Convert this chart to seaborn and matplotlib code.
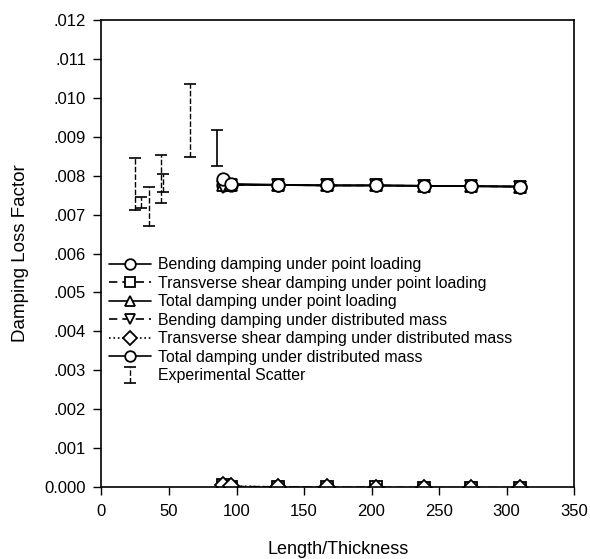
import numpy as np
import pandas as pd
import matplotlib
matplotlib.use("Agg")
import matplotlib.pyplot as plt
import seaborn as sns
from matplotlib.ticker import FuncFormatter, MultipleLocator

# predicted damping curves
lt = [90, 96, 131, 167, 203, 239, 274, 310]
bend_point = [0.00776, 0.00777, 0.00776, 0.00775, 0.00775, 0.00774, 0.00773, 0.00772]
shear_point = [0.00004, 0.00001, 0.0, -0.00001, -0.00001, -0.00002, -0.00002, -0.00002]
total_point = [0.00775, 0.00777, 0.00776, 0.00775, 0.00775, 0.00774, 0.00773, 0.00772]
bend_dist = [0.00772, 0.00776, 0.00776, 0.00775, 0.00775, 0.00774, 0.00773, 0.00772]
shear_dist = [0.00006, 0.00002, 0.0, -0.00001, -0.00002, -0.00002, -0.00002, -0.00003]
total_dist = [0.00792, 0.00779, 0.00777, 0.00775, 0.00775, 0.00774, 0.00773, 0.00772]

# experimental scatter (min / max)
exp_lt = [25, 29.3, 35.5, 44.2, 45.7, 65.9, 85.8]
exp_lo = [0.00712, 0.00717, 0.00672, 0.00730, 0.00759, 0.00848, 0.00824]
exp_hi = [0.00845, 0.00746, 0.00772, 0.00853, 0.00804, 0.01037, 0.00917]

labels = ["Bending damping under point loading",
          "Transverse shear damping under point loading",
          "Total damping under point loading",
          "Bending damping under distributed mass",
          "Transverse shear damping under distributed mass",
          "Total damping under distributed mass"]
series = [bend_point, shear_point, total_point, bend_dist, shear_dist, total_dist]
markers = ["o", "s", "^", "v", "D", "o"]
styles = ["-", (0, (5, 3)), "-", (0, (5, 3)), ":", "-"]
msizes = [9, 8, 8.5, 8.5, 8, 9]

sns.set_style("ticks")
plt.rcParams['font.family'] = ['Liberation Sans', 'DejaVu Sans']
plt.rcParams['text.color'] = 'black'
plt.rcParams['axes.labelcolor'] = 'black'

fig = plt.figure(figsize=(5.90, 5.59), dpi=100)
ax = fig.add_axes([0.172, 0.129, 0.801, 0.835])

for y, lab, m, ls, ms in zip(series, labels, markers, styles, msizes):
    df = pd.DataFrame({"lt": lt, "eta": y})
    sns.lineplot(data=df, x="lt", y="eta", ax=ax, color="black", lw=1.2,
                 linestyle=ls, marker=m, markersize=ms, markerfacecolor="white",
                 markeredgecolor="black", markeredgewidth=1.3, label=lab)

lo = np.array(exp_lo)
hi = np.array(exp_hi)
mid = (lo + hi) / 2
err = (hi - lo) / 2
# dashed scatter bars
eb = ax.errorbar(exp_lt[:6], mid[:6], yerr=err[:6], fmt="none", ecolor="black",
                 elinewidth=1.0, capsize=4, capthick=1.2, label="Experimental Scatter")
eb[2][0].set_linestyle((0, (4, 1.5)))
ax.errorbar(exp_lt[6:], mid[6:], yerr=err[6:], fmt="none", ecolor="black",
            elinewidth=1.2, capsize=4, capthick=1.2)

ax.set_xlim(0, 350)
ax.set_ylim(0, 0.012)
ax.xaxis.set_major_locator(MultipleLocator(50))
ax.yaxis.set_major_locator(MultipleLocator(0.001))
ax.yaxis.set_major_formatter(FuncFormatter(
    lambda v, p: "0.000" if abs(v) < 1e-9 else ("%.3f" % v)[1:]))
ax.tick_params(direction="out", length=6, width=1, labelsize=12, colors="black")
ax.tick_params(axis="x", pad=6)
ax.tick_params(axis="y", pad=5)
for s in ax.spines.values():
    s.set_linewidth(1.2)
    s.set_color("black")

ax.set_xlabel("Length/Thickness", fontsize=13, labelpad=16)
ax.set_ylabel("Damping Loss Factor", fontsize=13.5, labelpad=11)

leg = ax.legend(loc="upper left", bbox_to_anchor=(-0.005, 0.512), frameon=False,
                fontsize=11.4, handlelength=2.7, handletextpad=0.4, labelspacing=0.22,
                borderaxespad=0.2, markerscale=0.85)

fig.savefig("out.png", dpi=100)
